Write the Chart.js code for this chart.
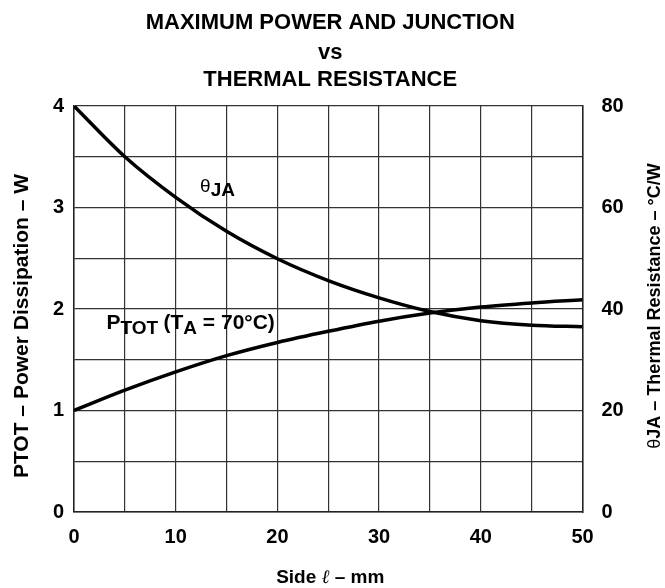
<!DOCTYPE html>
<html><head><meta charset="utf-8">
<script src="https://cdn.jsdelivr.net/npm/chart.js@4.4.1/dist/chart.umd.min.js"></script>
<style>html,body{margin:0;padding:0;background:#fff}canvas{display:block}</style>
</head><body>
<canvas id="c" width="665" height="588"></canvas>
<script>
// Data
const sideMm   = [0, 5, 10, 15, 20, 25, 30, 35, 40, 45, 50];
const pTotW    = [1.00, 1.20, 1.38, 1.54, 1.67, 1.78, 1.88, 1.96, 2.02, 2.06, 2.09];
const thetaJA  = [80, 70, 62.0, 55.3, 49.9, 45.6, 42.2, 39.5, 37.7, 36.8, 36.5];
const xTickLabels     = [0, 10, 20, 30, 40, 50];
const leftTickLabels  = [0, 1, 2, 3, 4];
const rightTickLabels = [0, 20, 40, 60, 80];
const titleLines = ['MAXIMUM POWER AND JUNCTION', 'vs', 'THERMAL RESISTANCE'];

const FONT = '"Liberation Sans", Arial, sans-serif';
const tickFont = {family: FONT, size: 20, weight: 'bold'};
const gridCol = '#333';

const textPlugin = {
  id: 'texts',
  afterDraw(chart) {
    const ctx = chart.ctx;
    const xs = chart.scales.x, ys = chart.scales.y;
    ctx.save();
    ctx.fillStyle = '#000';
    // Main title
    ctx.font = 'bold 22px ' + FONT;
    ctx.textAlign = 'center';
    ctx.textBaseline = 'middle';
    const tx = (chart.chartArea.left + chart.chartArea.right) / 2 + 2;
    [23, 53, 80].forEach((y, i) => ctx.fillText(titleLines[i], tx, y));
    // X axis title
    const sideTxt = 'Side ', ellTxt = '\u2113', restTxt = ' \u2013 mm';
    ctx.textAlign = 'left';
    ctx.font = 'bold 19px ' + FONT;
    const w1 = ctx.measureText(sideTxt).width, w3 = ctx.measureText(restTxt).width;
    ctx.font = 'italic 19px "DejaVu Serif", serif';
    const w2 = ctx.measureText(ellTxt).width;
    let x0 = tx - (w1 + w2 + w3) / 2;
    ctx.font = 'bold 19px ' + FONT; ctx.fillText(sideTxt, x0, 578);
    ctx.font = 'italic 19px "DejaVu Serif", serif'; ctx.fillText(ellTxt, x0 + w1, 578);
    ctx.font = 'bold 19px ' + FONT; ctx.fillText(restTxt, x0 + w1 + w2, 578);
    // Left axis title
    ctx.save();
    ctx.translate(22, 326);
    ctx.rotate(-Math.PI / 2);
    ctx.textAlign = 'center';
    ctx.font = 'bold 21px ' + FONT;
    ctx.fillText('PTOT \u2013 Power Dissipation \u2013 W', 0, 0);
    ctx.restore();
    // Right axis title
    ctx.save();
    ctx.translate(655, 306);
    ctx.rotate(-Math.PI / 2);
    ctx.textAlign = 'left';
    ctx.font = '18px ' + FONT;
    const th = '\u03B8';
    const wth = ctx.measureText(th).width;
    ctx.font = 'bold 18px ' + FONT;
    const rt = 'JA \u2013 Thermal Resistance \u2013 \u00B0C/W';
    const wrt = ctx.measureText(rt).width;
    const sx = -(wth + wrt) / 2;
    ctx.font = '18px ' + FONT; ctx.fillText(th, sx, 0);
    ctx.font = 'bold 18px ' + FONT; ctx.fillText(rt, sx + wth, 0);
    ctx.restore();
    // Curve labels
    ctx.textAlign = 'left';
    ctx.textBaseline = 'alphabetic';
    let ax = xs.getPixelForValue(12.4), ay = ys.getPixelForValue(3.15);
    ctx.font = '19px ' + FONT; ctx.fillText('\u03B8', ax, ay);
    let aw = ctx.measureText('\u03B8').width;
    ctx.font = 'bold 19px ' + FONT; ctx.fillText('JA', ax + aw, ay + 4);
    let px = xs.getPixelForValue(3.2), py = ys.getPixelForValue(1.8);
    ctx.font = 'bold 21px ' + FONT; ctx.fillText('P', px, py); px += ctx.measureText('P').width;
    ctx.font = 'bold 19px ' + FONT; ctx.fillText('TOT', px, py + 5); px += ctx.measureText('TOT ').width;
    ctx.font = 'bold 21px ' + FONT; ctx.fillText('(T', px, py); px += ctx.measureText('(T').width;
    ctx.font = 'bold 19px ' + FONT; ctx.fillText('A', px, py + 5); px += ctx.measureText('A').width;
    ctx.font = 'bold 21px ' + FONT; ctx.fillText(' = 70\u00B0C)', px, py);
    ctx.restore();
  }
};

new Chart(document.getElementById('c'), {
  type: 'line',
  data: {
    datasets: [
      {label: 'PTOT', data: sideMm.map((x, i) => ({x, y: pTotW[i]})), yAxisID: 'y',
       borderColor: '#000', borderWidth: 3.5, pointRadius: 0, tension: 0.4, cubicInterpolationMode: 'monotone'},
      {label: 'θJA', data: sideMm.map((x, i) => ({x, y: thetaJA[i]})), yAxisID: 'y2',
       borderColor: '#000', borderWidth: 3.5, pointRadius: 0, tension: 0.4, cubicInterpolationMode: 'monotone'}
    ]
  },
  options: {
    responsive: false,
    animation: false,
    layout: {padding: {top: 106, left: 0, right: 0, bottom: 0}},
    plugins: {legend: {display: false}, title: {display: false}, tooltip: {enabled: false}},
    scales: {
      x: {
        type: 'linear', min: 0, max: 50,
        ticks: {stepSize: 5, font: tickFont, color: '#000', padding: 13, maxRotation: 0,
                callback: v => xTickLabels.includes(v) ? String(v) : ''},
        grid: {color: gridCol, lineWidth: 1.2, drawTicks: false},
        border: {color: '#222', width: 1.5},
        afterFit: s => { s.height = 76; }
      },
      y: {
        position: 'left', min: 0, max: 4,
        ticks: {stepSize: 0.5, font: tickFont, color: '#000', padding: 10,
                callback: v => leftTickLabels.includes(v) ? String(v) : ''},
        grid: {color: gridCol, lineWidth: 1.2, drawTicks: false},
        border: {color: '#222', width: 1.5},
        afterFit: s => { s.width = 74; }
      },
      y2: {
        position: 'right', min: 0, max: 80,
        ticks: {stepSize: 10, font: tickFont, color: '#000', padding: 19,
                callback: v => rightTickLabels.includes(v) ? String(v) : ''},
        grid: {drawOnChartArea: false, drawTicks: false},
        border: {color: '#222', width: 1.5},
        afterFit: s => { s.width = 82.5; }
      }
    }
  },
  plugins: [textPlugin]
});
</script>
</body></html>
